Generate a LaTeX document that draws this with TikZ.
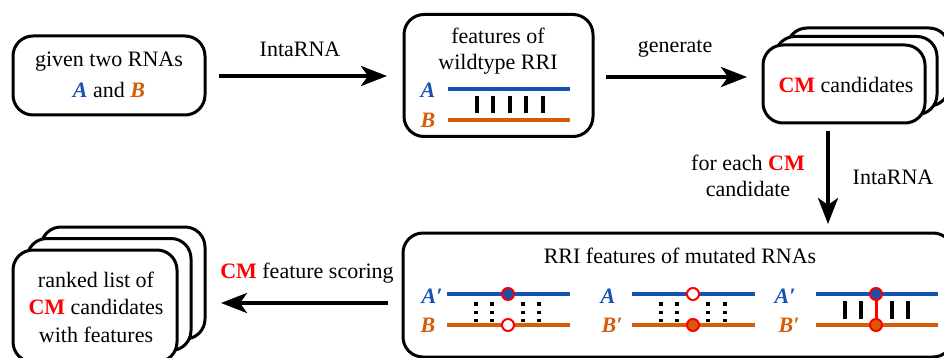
\documentclass[tikz,border=0pt]{standalone}
\usepackage{fontspec}
\setmainfont{Liberation Serif}
\newfontfamily\tnr{Liberation Serif}
\usetikzlibrary{arrows.meta}
\definecolor{rnablue}{RGB}{22,82,178}
\definecolor{rnaorange}{RGB}{214,92,8}
\definecolor{cmred}{RGB}{255,0,0}
\newcommand{\CM}{\textcolor{cmred}{\textbf{CM}}}
\newcommand{\RA}{\textcolor{rnablue}{\textbf{\textit{A}}}}
\newcommand{\RB}{\textcolor{rnaorange}{\textbf{\textit{B}}}}
\newcommand{\RAp}{\textcolor{rnablue}{\textbf{\textit{A′}}}}
\newcommand{\RBp}{\textcolor{rnaorange}{\textbf{\textit{B′}}}}
\begin{document}
\begin{tikzpicture}[x=1pt,y=-1pt,
  every node/.style={font=\tnr\fontsize{22}{26}\selectfont},
  box/.style={draw=black,line width=3pt,rounded corners=20pt,fill=white,inner sep=0pt},
  flow/.style={line width=4pt,-{Stealth[length=26pt,width=20pt,inset=7pt]}},
  lbl/.style={inner sep=0pt,align=center},
  strandA/.style={draw=rnablue,line width=4pt},
  strandB/.style={draw=rnaorange,line width=4pt},
  bp/.style={line width=4pt},
  weakbp/.style={line width=4pt,dash pattern=on 3.5pt off 5pt},
  mutfull/.style={draw=cmred,line width=3pt},
  mutdot/.style={circle,draw=cmred,line width=2pt,minimum size=12pt,inner sep=0pt},
]
\clip (0,0) rectangle (944,358);

% box 1
\node[box,minimum width=192pt,minimum height=79pt] (given) at (109,75.5) {};
\node[lbl] (givent) at (109,62) {given two RNAs};
\node[lbl] (givenab) at (109,90) {\RA\ and \RB};

% box 2
\node[box,minimum width=189pt,minimum height=122pt] (wild) at (498.5,75.5) {};
\node[lbl] (wildt1) at (498,36) {features of};
\node[lbl] (wildt2) at (498,64) {wildtype RRI};
\node[lbl] (wA) at (428,90) {\RA};
\node[lbl] (wB) at (428,120) {\RB};
\coordinate (wa1) at (448,89); \coordinate (wa2) at (570,89);
\coordinate (wb1) at (448,120); \coordinate (wb2) at (570,120);
\draw[strandA] (wa1) -- (wa2);
\draw[strandB] (wb1) -- (wb2);
\foreach \x in {477,493,510,526,543}{
  \draw[bp] (\x,96) -- (\x,113);
}

% box 3 stack
\node[box,minimum width=162pt,minimum height=78pt] (cand3) at (868,67) {};
\node[box,minimum width=162pt,minimum height=78pt] (cand2) at (856,75.5) {};
\node[box,minimum width=162pt,minimum height=78pt] (cand) at (844,84) {};
\node[lbl] (candt) at (846,85) {\CM\ candidates};

% box 4
\node[box,minimum width=550pt,minimum height=124pt] (mut) at (678,295) {};
\node[lbl] (mutt) at (680,256) {RRI features of mutated RNAs};

% sub 1
\node[lbl] (s1A) at (432,296) {\RAp};
\node[lbl] (s1B) at (428,325) {\RB};
\draw[strandA] (447,294) -- (570,294);
\draw[strandB] (447,325) -- (570,325);
\foreach \x in {476,492,523,539}{
  \draw[weakbp] (\x,302) -- (\x,322);
}
\node[mutdot,fill=rnablue] (s1c1) at (508,294) {};
\node[mutdot,fill=white] (s1c2) at (508,325) {};

% sub 2
\node[lbl] (s2A) at (608,296) {\RA};
\node[lbl] (s2B) at (612,325) {\RBp};
\draw[strandA] (632,294) -- (755,294);
\draw[strandB] (632,325) -- (755,325);
\foreach \x in {661,677,708,725}{
  \draw[weakbp] (\x,302) -- (\x,322);
}
\node[mutdot,fill=white] (s2c1) at (693,294) {};
\node[mutdot,fill=rnaorange] (s2c2) at (693,325) {};

% sub 3
\node[lbl] (s3A) at (785,296) {\RAp};
\node[lbl] (s3B) at (789,325) {\RBp};
\draw[strandA] (816,294) -- (938,294);
\draw[strandB] (816,325) -- (938,325);
\foreach \x in {845,861,892,908}{
  \draw[bp] (\x,301) -- (\x,319);
}
\draw[mutfull] (876,294) -- (876,325);
\node[mutdot,fill=rnablue] (s3c1) at (876,294) {};
\node[mutdot,fill=rnaorange] (s3c2) at (876,325) {};

% box 5 stack
\node[box,minimum width=164pt,minimum height=112pt] (rank3) at (123,283) {};
\node[box,minimum width=164pt,minimum height=112pt] (rank2) at (109,294.5) {};
\node[box,minimum width=164pt,minimum height=112pt] (rank) at (95,306) {};
\node[lbl] (rankt1) at (96,280) {ranked list of};
\node[lbl] (rankt2) at (96,307) {\CM\ candidates};
\node[lbl] (rankt3) at (96,335) {with features};

% connectors
\coordinate (a1s) at (219,76);  \coordinate (a1e) at (387,76);
\coordinate (a2s) at (606,77);  \coordinate (a2e) at (747,77);
\coordinate (a3s) at (828,131); \coordinate (a3e) at (828,224);
\coordinate (a4s) at (388,303); \coordinate (a4e) at (221,303);
\draw[flow] (a1s) -- (a1e);
\draw[flow] (a2s) -- (a2e);
\draw[flow] (a3s) -- (a3e);
\draw[flow] (a4s) -- (a4e);
\node[lbl] (l1) at (300,49) {IntaRNA};
\node[lbl] (l2) at (675,49) {generate};
\node[lbl] (l3) at (748,176) {for each \CM\\candidate};
\node[lbl] (l4) at (893,177) {IntaRNA};
\node[lbl] (l5) at (307,273) {\CM\ feature scoring};
\end{tikzpicture}
\end{document}
